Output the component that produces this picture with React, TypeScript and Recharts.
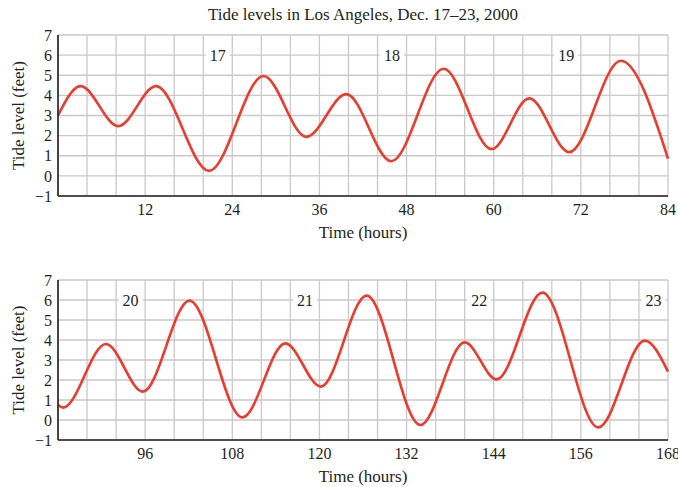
import { CartesianGrid, Label, Line, LineChart, ReferenceDot, XAxis, YAxis } from "recharts";

const serif = '"Liberation Serif", "Times New Roman", serif';
const ink = "#231f20";
const tideRed = "#ec3b2c";
const gridGrey = "#c9c9c9";

// high/low tides (hour, feet)
const hoursTop = [0, 3.1, 8.3, 13.5, 20.8, 28.3, 34.2, 39.7, 45.9, 53.1, 59.7, 64.9, 70.4, 77.5, 84];
const levelsTop = [3.0, 4.46, 2.47, 4.46, 0.25, 4.96, 1.94, 4.06, 0.73, 5.32, 1.33, 3.85, 1.18, 5.72, 0.86];
const hoursBottom = [84, 84.7, 90.6, 95.7, 102.1, 109.4, 115.3, 120.2, 126.5, 133.9, 140.0, 144.4, 150.7, 158.4, 164.8, 168];
const levelsBottom = [0.75, 0.62, 3.8, 1.42, 5.97, 0.13, 3.83, 1.67, 6.22, -0.25, 3.88, 2.03, 6.37, -0.37, 3.97, 2.42];

// grid every 4 hours, labels every 12
const gridHoursTop = [0, 4, 8, 12, 16, 20, 24, 28, 32, 36, 40, 44, 48, 52, 56, 60, 64, 68, 72, 76, 80, 84];
const gridHoursBottom = [84, 88, 92, 96, 100, 104, 108, 112, 116, 120, 124, 128, 132, 136, 140, 144, 148, 152, 156, 160, 164, 168];
const labeledHoursTop = [12, 24, 36, 48, 60, 72, 84];
const labeledHoursBottom = [96, 108, 120, 132, 144, 156, 168];
const levelTicks = [-1, 0, 1, 2, 3, 4, 5, 6, 7];

// day-of-month markers
const dayHoursTop = [22, 46, 70];
const daysTop = ["17", "18", "19"];
const dayHoursBottom = [94, 118, 142, 166];
const daysBottom = ["20", "21", "22", "23"];

const tickStyle = { fontFamily: serif, fontSize: 16, fill: ink };

interface TideChartProps {
  hours: number[];
  levels: number[];
  gridHours: number[];
  labeledHours: number[];
  dayHours: number[];
  days: string[];
  height: number;
  xAxisHeight: number;
}

function TideChart({ hours, levels, gridHours, labeledHours, dayHours, days, height, xAxisHeight }: TideChartProps) {
  const data = hours.map((h, i) => ({ hour: h, level: levels[i] }));
  return (
    <LineChart
      width={678}
      height={height}
      data={data}
      margin={{ top: 35, right: 10, bottom: 0, left: 0 }}
      style={{ fontFamily: serif }}
    >
      <CartesianGrid stroke={gridGrey} strokeWidth={1.3} />
      <XAxis
        dataKey="hour"
        type="number"
        domain={[gridHours[0], gridHours[gridHours.length - 1]]}
        ticks={gridHours}
        tickFormatter={(v) => (labeledHours.includes(Number(v)) ? String(v) : "")}
        interval={0}
        height={xAxisHeight}
        tick={tickStyle}
        tickLine={false}
        tickSize={0}
        tickMargin={8}
        axisLine={{ stroke: ink, strokeWidth: 1.6 }}
      >
        <Label
          content={(p: any) => {
            const vb = p.viewBox || { x: 58, y: 0, width: 610 };
            return (
              <text
                x={vb.x + vb.width / 2}
                y={vb.y + 36}
                textAnchor="middle"
                dominantBaseline="central"
                fontFamily={serif}
                fontSize={17}
                fill={ink}
              >
                Time (hours)
              </text>
            );
          }}
        />
      </XAxis>
      <YAxis
        type="number"
        domain={[-1, 7]}
        ticks={levelTicks}
        tickFormatter={(v) => String(v).replace("-", "\u2212")}
        interval={0}
        width={58}
        tick={tickStyle}
        tickLine={false}
        tickSize={0}
        tickMargin={6}
        axisLine={{ stroke: ink, strokeWidth: 1.6 }}
      >
        <Label
          content={(p: any) => {
            const vb = p.viewBox || { y: 35, height: 161 };
            const cx = 18;
            const cy = vb.y + vb.height / 2;
            return (
              <text
                x={cx}
                y={cy}
                transform={`rotate(-90 ${cx} ${cy})`}
                textAnchor="middle"
                dominantBaseline="central"
                fontFamily={serif}
                fontSize={17}
                fill={ink}
              >
                Tide level (feet)
              </text>
            );
          }}
        />
      </YAxis>
      {dayHours.map((h, i) => (
        <ReferenceDot
          key={days[i]}
          x={h}
          y={6}
          r={0}
          ifOverflow="visible"
          shape={(p: any) => (
            <g>
              <rect x={p.cx - 12} y={p.cy - 8} width={24} height={16} fill="#fff" />
              <text
                x={p.cx}
                y={p.cy}
                textAnchor="middle"
                dominantBaseline="central"
                fontFamily={serif}
                fontSize={16}
                fill={ink}
              >
                {days[i]}
              </text>
            </g>
          )}
        />
      ))}
      <Line
        type="monotone"
        dataKey="level"
        stroke={tideRed}
        strokeWidth={2.6}
        dot={false}
        activeDot={false}
        isAnimationActive={false}
      />
    </LineChart>
  );
}

export default function App() {
  return (
    <div style={{ position: "absolute", left: 0, top: 0, width: 678, height: 487, background: "#fff" }}>
      <div
        style={{
          position: "absolute",
          left: 58,
          top: 5,
          width: 610,
          textAlign: "center",
          fontFamily: serif,
          fontSize: 17,
          lineHeight: "20px",
          color: ink,
        }}
      >
        Tide levels in Los Angeles, Dec. 17–23, 2000
      </div>
      <div style={{ position: "absolute", left: 0, top: 0 }}>
        <TideChart
          hours={hoursTop}
          levels={levelsTop}
          gridHours={gridHoursTop}
          labeledHours={labeledHoursTop}
          dayHours={dayHoursTop}
          days={daysTop}
          height={250}
          xAxisHeight={54}
        />
      </div>
      <div style={{ position: "absolute", left: 0, top: 245 }}>
        <TideChart
          hours={hoursBottom}
          levels={levelsBottom}
          gridHours={gridHoursBottom}
          labeledHours={labeledHoursBottom}
          dayHours={dayHoursBottom}
          days={daysBottom}
          height={242}
          xAxisHeight={47}
        />
      </div>
    </div>
  );
}
